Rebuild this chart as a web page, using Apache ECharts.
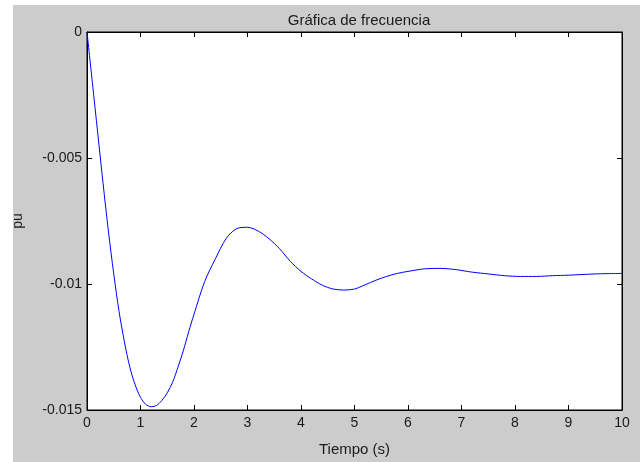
<!DOCTYPE html>
<html>
<head>
<meta charset="utf-8">
<script src="https://cdn.jsdelivr.net/npm/echarts@6/dist/echarts.min.js"></script>
<style>
  html, body { margin: 0; padding: 0; background: #ffffff; }
  #chart { width: 640px; height: 462px; }
</style>
</head>
<body>
<div id="chart"></div>
<script>
// Data
const timeValues = [0, 0.1, 0.2, 0.3, 0.4, 0.5, 0.6, 0.7, 0.8, 0.9, 1.0, 1.1, 1.2, 1.3, 1.4, 1.5, 1.6, 1.7, 1.8, 1.9, 2.0, 2.2, 2.4, 2.6, 2.8, 3.0, 3.2, 3.4, 3.6, 3.8, 4.0, 4.2, 4.4, 4.6, 4.8, 5.0, 5.2, 5.4, 5.6, 5.8, 6.0, 6.3, 6.6, 6.9, 7.2, 7.5, 7.8, 8.1, 8.4, 8.7, 9.0, 9.5, 10.0];
const freqValues = [0, -0.0020, -0.0040, -0.0060, -0.0079, -0.0096, -0.0111, -0.0123, -0.0133, -0.0140, -0.01450, -0.01478, -0.01487, -0.01482, -0.01462, -0.01432, -0.0139, -0.0133, -0.01265, -0.0119, -0.0112, -0.0099, -0.0090, -0.0082, -0.0078, -0.00775, -0.0079, -0.0082, -0.0086, -0.0091, -0.0095, -0.0098, -0.01005, -0.0102, -0.01024, -0.0102, -0.01003, -0.00985, -0.0097, -0.00958, -0.0095, -0.0094, -0.00938, -0.00943, -0.00953, -0.0096, -0.00967, -0.0097, -0.0097, -0.00967, -0.00965, -0.0096, -0.00958];
const xTickLabels = ['0', '1', '2', '3', '4', '5', '6', '7', '8', '9', '10'];
const yTickLabels = ['-0.015', '-0.01', '-0.005', '0'];
const titleText = 'Gráfica de frecuencia';
const xAxisName = 'Tiempo (s)';
const yAxisName = 'pu';

const chart = echarts.init(document.getElementById('chart'), null, { renderer: 'canvas' });
const FONT = 'Liberation Sans';
const TXT = '#1a1a1a';

function xLabel(v) { const i = Math.round(v); return xTickLabels[i] !== undefined ? xTickLabels[i] : ''; }
function yLabel(v) { const i = Math.round((v + 0.015) / 0.005); return yTickLabels[i] !== undefined ? yTickLabels[i] : ''; }

function ticks() { return { show: true, inside: true, length: 5, lineStyle: { color: '#000', width: 1 } }; }

chart.setOption({
  animation: false,
  backgroundColor: '#ffffff',
  graphic: [{
    type: 'rect', z: -10, silent: true,
    shape: { x: 13, y: 5, width: 627, height: 457 },
    style: { fill: '#cccccc' }
  }],
  title: {
    text: titleText,
    left: 354, top: 8, textAlign: 'center',
    textStyle: { fontFamily: FONT, fontSize: 15, fontWeight: 'normal', color: TXT }
  },
  grid: {
    left: 87, right: 18, top: 32, bottom: 45,
    show: true, backgroundColor: '#ffffff', borderColor: '#000', borderWidth: 1
  },
  xAxis: [{
    type: 'value', min: 0, max: 10, interval: 1, position: 'bottom',
    name: xAxisName, nameLocation: 'middle', nameGap: 32,
    nameTextStyle: { fontFamily: FONT, fontSize: 15, color: TXT },
    axisLine: { show: true, onZero: false, lineStyle: { color: '#000', width: 1 } },
    axisTick: ticks(),
    axisLabel: { formatter: xLabel, fontFamily: FONT, fontSize: 14, color: TXT, margin: 6 },
    splitLine: { show: false }
  }, {
    type: 'value', min: 0, max: 10, interval: 1, position: 'top',
    axisLine: { show: true, onZero: false, lineStyle: { color: '#000', width: 1 } },
    axisTick: ticks(), axisLabel: { show: false }, splitLine: { show: false }
  }],
  yAxis: [{
    type: 'value', min: -0.015, max: 0, interval: 0.005, position: 'left',
    name: yAxisName, nameLocation: 'middle', nameGap: 62, nameRotate: 90,
    nameTextStyle: { fontFamily: FONT, fontSize: 14, color: TXT },
    axisLine: { show: true, onZero: false, lineStyle: { color: '#000', width: 1 } },
    axisTick: ticks(),
    axisLabel: { formatter: yLabel, fontFamily: FONT, fontSize: 14, color: TXT, margin: 5 },
    splitLine: { show: false }
  }, {
    type: 'value', min: -0.015, max: 0, interval: 0.005, position: 'right',
    axisLine: { show: true, onZero: false, lineStyle: { color: '#000', width: 1 } },
    axisTick: ticks(), axisLabel: { show: false }, splitLine: { show: false }
  }],
  series: [{
    type: 'line',
    xAxisIndex: 0, yAxisIndex: 0,
    data: timeValues.map((t, i) => [t, freqValues[i]]),
    smooth: 0.3,
    showSymbol: false,
    lineStyle: { color: '#0000ff', width: 1 },
    clip: true
  }]
});
</script>
</body>
</html>
